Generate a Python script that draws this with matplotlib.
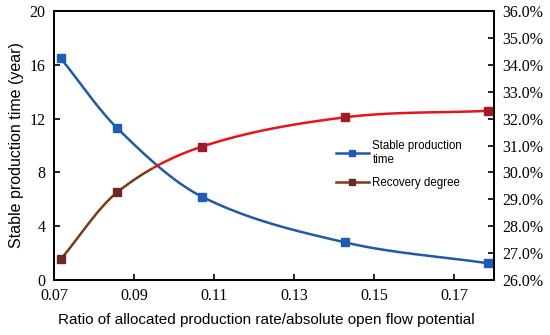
import matplotlib
matplotlib.use("Agg")
import matplotlib.pyplot as plt
from matplotlib.ticker import FuncFormatter, MultipleLocator
import numpy as np

# values
ratio = [0.0717, 0.0858, 0.107, 0.1428, 0.1785]
stable_time = [16.5, 11.3, 6.2, 2.8, 1.25]          # years
recovery = [26.77, 29.26, 30.96, 32.05, 32.29]      # percent

BLUE = "#1f5aa6"
BLUE_MK = "#1f5cb5"
RED = "#e8141b"
RED_MK = "#a01a28"
BROWN = "#7a3a1a"
BROWN_MK = "#6b2a20"


def smooth(x, y, n=40):
    """Catmull-Rom style smoothing of the drawn line (like Excel's smoothed line)."""
    x = np.asarray(x, float); y = np.asarray(y, float)
    m = np.zeros_like(y)
    m[1:-1] = (y[2:] - y[:-2]) / (x[2:] - x[:-2])
    m[0] = (y[1] - y[0]) / (x[1] - x[0])
    m[-1] = (y[-1] - y[-2]) / (x[-1] - x[-2])
    xs, ys = [], []
    for i in range(len(x) - 1):
        h = x[i + 1] - x[i]
        t = np.linspace(0, 1, n)
        h00 = 2*t**3 - 3*t**2 + 1
        h10 = t**3 - 2*t**2 + t
        h01 = -2*t**3 + 3*t**2
        h11 = t**3 - t**2
        xs.append(x[i] + t*h)
        ys.append(h00*y[i] + h10*h*m[i] + h01*y[i+1] + h11*h*m[i+1])
    return np.concatenate(xs), np.concatenate(ys)


plt.rcParams["font.family"] = "Liberation Sans"

fig = plt.figure(figsize=(5.5, 3.35), dpi=100)
ax = fig.add_axes([0.098, 0.164, 0.800, 0.803])
ax2 = ax.twinx()

# stable production time
sx, sy = smooth(ratio, stable_time)
ax.plot(sx, sy, color=BLUE, lw=1.8, zorder=2)
ax.plot(ratio, stable_time, ls="none", marker="s", ms=6, color=BLUE_MK, zorder=3)

# recovery degree: brown at the start, red afterwards
rx, ry = smooth(ratio, recovery)
split = 0.095
ax2.plot(rx[rx <= split], ry[rx <= split], color=BROWN, lw=1.8, zorder=2)
ax2.plot(rx[rx >= split - 0.0005], ry[rx >= split - 0.0005], color=RED, lw=1.8, zorder=2)
ax2.plot(ratio[:2], recovery[:2], ls="none", marker="s", ms=6, color=BROWN_MK, zorder=3)
ax2.plot(ratio[2:], recovery[2:], ls="none", marker="s", ms=6, color=RED_MK, zorder=3)

# legend handles
h1, = ax.plot([], [], color=BLUE, lw=1.8, marker="s", ms=5, mfc=BLUE_MK, mec=BLUE_MK)
h2, = ax.plot([], [], color=BROWN, lw=1.8, marker="s", ms=5, mfc=BROWN_MK, mec=BROWN_MK)
ax2.legend([h1, h2], ["Stable production\ntime", "Recovery degree"],
           loc="center left", bbox_to_anchor=(0.64, 0.43), frameon=False,
           borderpad=0, borderaxespad=0,
           fontsize=8.3, handlelength=2.9, handletextpad=0.3, labelspacing=1.0)

ax.set_xlim(0.07, 0.18)
ax.set_ylim(0, 20)
ax2.set_ylim(26, 36)
ax.set_xticks([0.07, 0.09, 0.11, 0.13, 0.15, 0.17])
ax.xaxis.set_major_formatter(FuncFormatter(lambda v, p: f"{v:.2f}"))
ax.yaxis.set_major_locator(MultipleLocator(4))
ax2.yaxis.set_major_locator(MultipleLocator(1))
ax2.yaxis.set_major_formatter(FuncFormatter(lambda v, p: f"{v:.1f}%"))

for a in (ax, ax2):
    a.tick_params(direction="in", length=4, width=1.2, labelsize=11.5, pad=6)
    for lab in a.get_xticklabels() + a.get_yticklabels():
        lab.set_fontfamily("Liberation Serif")
    for s in a.spines.values():
        s.set_linewidth(1.4)

ax.set_xlabel("Ratio of allocated production rate/absolute open flow potential",
              fontsize=11)
ax.xaxis.set_label_coords(0.482, -0.122)
ax.set_ylabel("Stable production time (year)", fontsize=11.5, labelpad=4)

fig.savefig("out.png", dpi=100)
